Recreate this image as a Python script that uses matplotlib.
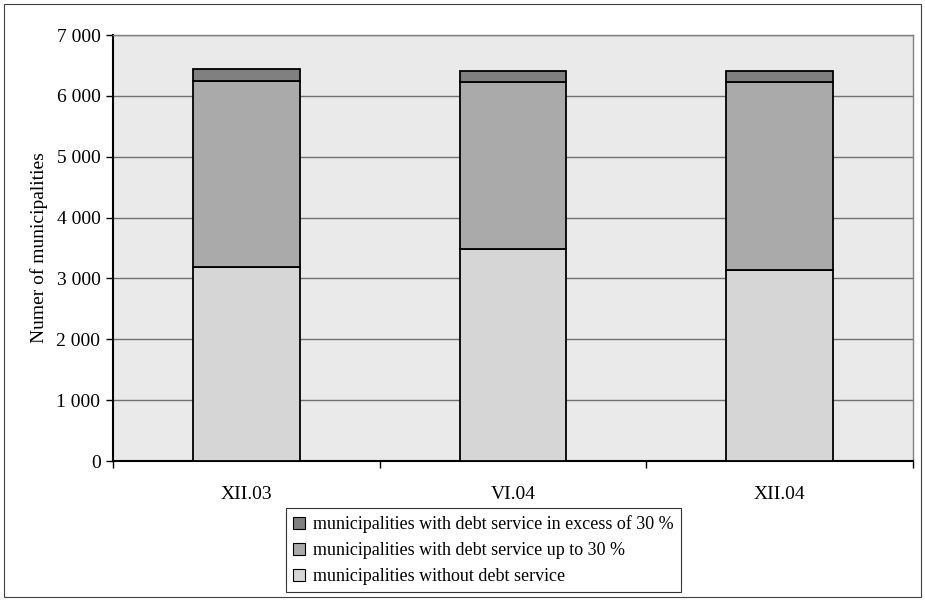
import numpy as np
import matplotlib.pyplot as plt
from matplotlib.patches import Patch, Rectangle

plt.rcParams['font.family'] = ['Liberation Serif', 'DejaVu Serif']

periods = ['XII.03', 'VI.04', 'XII.04']
no_debt = [3183, 3478, 3134]
debt_up_to_30 = [3057, 2757, 3101]
debt_over_30 = [196, 175, 175]

labels = ['municipalities without debt service',
          'municipalities with debt service up to 30 %',
          'municipalities with debt service in excess of 30 %']
colors = ['#d6d6d6', '#aaaaaa', '#808080']

fig = plt.figure(figsize=(9.25, 6.01), dpi=100)
ax = fig.add_axes([113 / 925, 1 - 461 / 601, 800 / 925, 426 / 601])
ax.set_facecolor('#eaeaea')

x = np.arange(len(periods))
bottom = np.zeros(len(periods))
for vals, col in zip([no_debt, debt_up_to_30, debt_over_30], colors):
    ax.bar(x, vals, width=0.4, bottom=bottom, color=col, edgecolor='black',
           linewidth=1.3, zorder=3)
    bottom += np.array(vals)

ax.set_xlim(-0.5, 2.5)
ax.set_ylim(0, 7000)
ax.set_yticks(np.arange(0, 7001, 1000))
ax.set_yticklabels([f'{v:,}'.replace(',', ' ') for v in range(0, 7001, 1000)],
                   fontsize=14)
ax.yaxis.grid(True, color='#707070', linewidth=1.0, zorder=1)
ax.set_axisbelow(True)

# category labels centred, tick marks on category boundaries
ax.set_xticks(x)
ax.set_xticklabels(periods, fontsize=14)
ax.tick_params(axis='x', length=0, pad=18)
ax.set_xticks([-0.5, 0.5, 1.5, 2.5], minor=True)
ax.tick_params(axis='x', which='minor', length=5, width=1, color='black')
ax.tick_params(axis='y', length=5, width=1, color='black', pad=4)

ax.spines['left'].set_linewidth(1.5)
ax.spines['bottom'].set_linewidth(1.5)
for s in ['top', 'right']:
    ax.spines[s].set_color('#808080')
    ax.spines[s].set_linewidth(1.0)

ax.set_ylabel('Numer of municipalities', fontsize=14, labelpad=6)

handles = [Patch(facecolor=c, edgecolor='black', linewidth=0.8) for c in colors]
leg = fig.legend(handles[::-1], labels[::-1], loc='upper left',
                 bbox_to_anchor=(286 / 925, 1 - 508 / 601), fontsize=13,
                 frameon=True, fancybox=False, edgecolor='black',
                 handlelength=0.65, handleheight=0.65, handletextpad=0.45,
                 labelspacing=0.5, borderpad=0.4, borderaxespad=0)
leg.get_frame().set_linewidth(0.8)

# thin outer border around the figure
fig.patches.append(Rectangle((4 / 925, 4 / 601), 917 / 925, 593 / 601,
                             transform=fig.transFigure, fill=False,
                             edgecolor='#404040', linewidth=0.8))

fig.savefig('out.png', dpi=100)
